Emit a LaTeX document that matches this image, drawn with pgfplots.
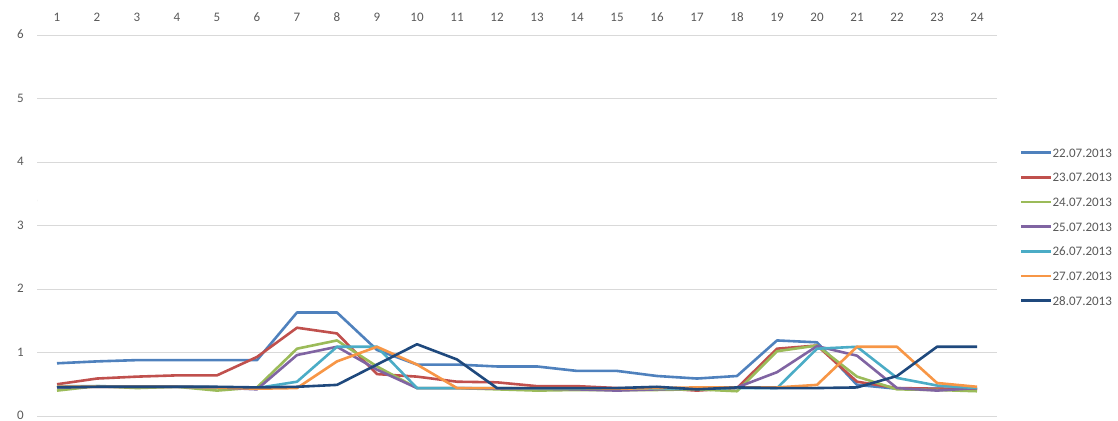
\documentclass[border=0pt]{standalone}
\usepackage{pgfplots}
\pgfplotsset{compat=1.18}
\usepackage{pgfplotstable}
\usepackage{fontspec}
\setmainfont{Carlito}
\definecolor{c1}{HTML}{4F81BD}
\definecolor{c2}{HTML}{C0504D}
\definecolor{c3}{HTML}{9BBB59}
\definecolor{c4}{HTML}{8064A2}
\definecolor{c5}{HTML}{4BACC6}
\definecolor{c6}{HTML}{F79646}
\definecolor{c7}{HTML}{1F497D}
\definecolor{tickc}{HTML}{595959}
\definecolor{gridc}{HTML}{D9D9D9}
\pgfplotstableread{
x a b c d e f g
1 0.83 0.50 0.40 0.45 0.47 0.46 0.45
2 0.86 0.59 0.47 0.46 0.47 0.46 0.46
3 0.88 0.62 0.44 0.46 0.46 0.46 0.46
4 0.88 0.64 0.46 0.46 0.46 0.46 0.46
5 0.88 0.64 0.40 0.45 0.45 0.45 0.46
6 0.88 0.93 0.45 0.42 0.44 0.43 0.45
7 1.63 1.39 1.06 0.96 0.54 0.44 0.46
8 1.63 1.30 1.19 1.09 1.09 0.86 0.49
9 1.04 0.66 0.78 0.73 1.09 1.09 0.81
10 0.81 0.62 0.44 0.44 0.44 0.81 1.13
11 0.81 0.54 0.44 0.44 0.44 0.44 0.89
12 0.78 0.53 0.42 0.43 0.44 0.44 0.44
13 0.78 0.47 0.40 0.43 0.43 0.44 0.44
14 0.71 0.47 0.41 0.42 0.43 0.44 0.44
15 0.71 0.44 0.41 0.40 0.43 0.43 0.44
16 0.63 0.44 0.41 0.42 0.43 0.44 0.46
17 0.59 0.40 0.42 0.43 0.43 0.45 0.42
18 0.63 0.44 0.39 0.45 0.44 0.45 0.45
19 1.19 1.06 1.02 0.69 0.44 0.45 0.44
20 1.16 1.11 1.11 1.10 1.06 0.49 0.44
21 0.49 0.54 0.62 0.95 1.09 1.09 0.45
22 0.43 0.44 0.42 0.44 0.60 1.09 0.63
23 0.43 0.43 0.41 0.40 0.48 0.52 1.09
24 0.43 0.42 0.39 0.44 0.44 0.46 1.09
}\data
\begin{document}
\begin{tikzpicture}
\useasboundingbox (-37bp,-5bp) rectangle (1081bp,416bp);
\begin{axis}[
  scale only axis,
  width=960bp, height=381bp,
  xmin=0.5, xmax=24.5, ymin=0, ymax=6,
  xtick={1,...,24}, ytick={0,1,...,6},
  xticklabel pos=right,
  axis line style={draw=none},
  major tick length=0pt,
  xmajorgrids=false, ymajorgrids=true,
  y grid style={draw=gridc, line width=0.9bp},
  tick label style={font=\fontsize{13bp}{15bp}\selectfont, text=tickc, inner sep=0pt},
  xticklabel style={anchor=south, yshift=13bp},
  yticklabel style={anchor=east, xshift=-13bp, yshift=0.5bp},
  /pgf/number format/assume math mode=true,
  every axis plot/.append style={line width=2.6bp, line join=round},
  legend style={draw=none, fill=none, at={(axis description cs:1,0.497)}, anchor=west, xshift=23bp,
    inner sep=0pt, outer sep=0pt,
    font=\fontsize{13bp}{15bp}\selectfont, text=tickc,
    nodes={inner sep=0pt, text height=9bp, text depth=0bp},
    row sep=15.7bp},
  legend cell align=left,
  legend image code/.code={\draw[#1] (0bp,0bp) -- (30bp,0bp);},
]
\addplot[c1] table[x=x,y=a]{\data};
\addplot[c2] table[x=x,y=b]{\data};
\addplot[c3] table[x=x,y=c]{\data};
\addplot[c4] table[x=x,y=d]{\data};
\addplot[c5] table[x=x,y=e]{\data};
\addplot[c6] table[x=x,y=f]{\data};
\addplot[c7] table[x=x,y=g]{\data};
\legend{22.07.2013,23.07.2013,24.07.2013,25.07.2013,26.07.2013,27.07.2013,28.07.2013}
\node[font=\tiny, text=black!25, inner sep=0pt] at (axis description cs:0,0.564) {)};
\end{axis}
\end{tikzpicture}
\end{document}
